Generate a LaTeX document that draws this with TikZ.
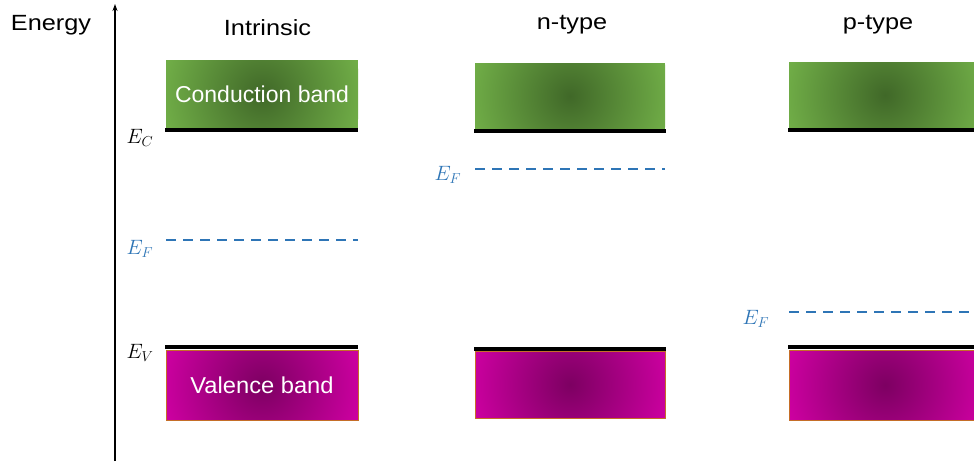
\documentclass[tikz,border=0pt]{standalone}
\usepackage{fontspec}
\setmainfont{Liberation Sans}
\usetikzlibrary{arrows.meta}
\definecolor{cbedge}{RGB}{112,173,71}
\definecolor{cbmid}{RGB}{64,104,40}
\definecolor{vbedge}{RGB}{204,0,160}
\definecolor{vbmid}{RGB}{125,0,98}
\definecolor{vbline}{RGB}{197,110,40}
\definecolor{efblue}{RGB}{46,117,182}
\tikzset{
  cband/.style={rectangle, inner sep=0pt, minimum width=192pt, minimum height=68pt,
    fill=cbedge, text=white,
    path picture={\shade[inner color=cbmid, outer color=cbedge]
      (path picture bounding box.center) circle (100pt);}},
  vband/.style={rectangle, inner sep=0pt, minimum width=192pt, minimum height=70pt,
    fill=vbedge, draw=vbline, line width=0.8pt, text=white,
    path picture={\shade[inner color=vbmid, outer color=vbedge]
      (path picture bounding box.center) circle (100pt);}},
  edgeline/.style={line width=4pt, black},
  fermi/.style={efblue, line width=2pt, dash pattern=on 10pt off 7pt},
  title/.style={anchor=base, font=\fontsize{22}{26}\selectfont},
  elabel/.style={font=\fontsize{21}{25}\selectfont},
  flabel/.style={font=\fontsize{21}{25}\selectfont, text=efblue},
}
\newcommand{\wide}[1]{\scalebox{1.15}[1]{#1}}
\begin{document}
\begin{tikzpicture}[x=1pt,y=-1pt]
\useasboundingbox (0,0) rectangle (974,461);
\clip (0,0) rectangle (974,461);
% axis
\coordinate (axb) at (115,461);
\coordinate (axt) at (115,4);
\draw[line width=1.5pt, -{Stealth[length=7pt,width=5pt]}] (axb) -- (axt);
\node[title] (energy) at (51,30) {\wide{Energy}};
% titles
\node[title] (tI) at (267.5,35) {\wide{Intrinsic}};
\node[title] (tN) at (572,29) {\wide{n-type}};
\node[title] (tP) at (878,29) {\wide{p-type}};
% intrinsic
\node[cband, font=\fontsize{23}{27}\selectfont] (cbI) at (262,94) {Conduction band};
\coordinate (ecIl) at (165,130); \coordinate (ecIr) at (358,130);
\draw[edgeline] (ecIl) -- (ecIr);
\node[elabel] (lecI) at (140,138) {$E_C$};
\coordinate (efIl) at (166,240); \coordinate (efIr) at (358,240);
\draw[fermi] (efIl) -- (efIr);
\node[flabel] (lefI) at (140,249) {$E_F$};
\coordinate (evIl) at (165,347); \coordinate (evIr) at (358,347);
\draw[edgeline] (evIl) -- (evIr);
\node[elabel] (levI) at (140,353) {$E_V$};
\node[vband, font=\fontsize{23}{27}\selectfont] (vbI) at (262,385) {\scalebox{1.03}[1]{Valence band}};
% n-type
\node[cband, minimum width=190pt, minimum height=66pt] (cbN) at (570,96) {};
\coordinate (ecNl) at (474,131); \coordinate (ecNr) at (666,131);
\draw[edgeline] (ecNl) -- (ecNr);
\coordinate (efNl) at (475,169); \coordinate (efNr) at (665,169);
\draw[fermi] (efNl) -- (efNr);
\node[flabel] (lefN) at (448,175) {$E_F$};
\coordinate (evNl) at (474,349); \coordinate (evNr) at (666,349);
\draw[edgeline] (evNl) -- (evNr);
\node[vband, minimum width=190pt, minimum height=67pt] (vbN) at (570,384.5) {};
% p-type
\node[cband, minimum width=192pt, minimum height=66pt] (cbP) at (885,95) {};
\coordinate (ecPl) at (788,130); \coordinate (ecPr) at (990,130);
\draw[edgeline] (ecPl) -- (ecPr);
\coordinate (efPl) at (789,312); \coordinate (efPr) at (990,312);
\draw[fermi] (efPl) -- (efPr);
\node[flabel] (lefP) at (756,319) {$E_F$};
\coordinate (evPl) at (788,347); \coordinate (evPr) at (990,347);
\draw[edgeline] (evPl) -- (evPr);
\node[vband, minimum width=192pt, minimum height=70pt] (vbP) at (885,385) {};
\end{tikzpicture}
\end{document}
